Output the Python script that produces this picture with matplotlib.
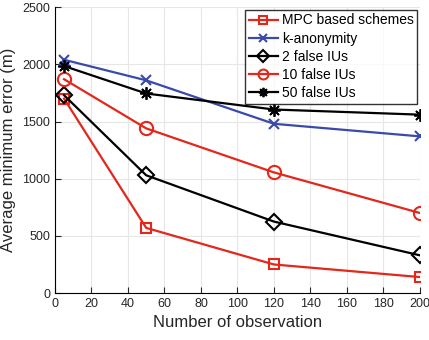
import matplotlib
matplotlib.use("Agg")
import matplotlib.pyplot as plt

obs = [5, 50, 120, 200]
mpc = [1700, 570, 250, 140]
kanon = [2040, 1860, 1480, 1370]
false2 = [1730, 1030, 625, 330]
false10 = [1870, 1440, 1055, 700]
false50 = [1985, 1745, 1605, 1560]

plt.rcParams["font.family"] = ["Liberation Sans", "DejaVu Sans"]

red = "#e3271b"
blue = "#3a4aa8"

fig = plt.figure(figsize=(4.29, 3.40), dpi=100)
ax = fig.add_axes([0.128, 0.138, 0.851, 0.841])

ax.plot(obs, mpc, color=red, lw=1.6, marker="s", ms=7.5, mfc="none", mew=1.5, label="MPC based schemes")
ax.plot(obs, kanon, color=blue, lw=1.6, marker="x", ms=7.5, mew=1.5, label="k-anonymity")
ax.plot(obs, false2, color="black", lw=1.6, marker="D", ms=8.5, mfc="none", mew=1.5, label="2 false IUs")
ax.plot(obs, false10, color=red, lw=1.6, marker="o", ms=9.5, mfc="none", mew=1.5, label="10 false IUs")
ax.plot(obs, false50, color="black", lw=1.6, marker=(8, 2, 0), ms=9, mew=1.3, label="50 false IUs")

ax.set_xlim(0, 200)
ax.set_ylim(0, 2500)
ax.set_xticks(range(0, 201, 20))
ax.set_yticks(range(0, 2501, 500))
ax.grid(True, color="#e6e6e6", lw=0.8)
ax.set_axisbelow(True)
ax.spines["top"].set_visible(False)
ax.spines["right"].set_visible(False)
ax.tick_params(labelsize=9, direction="in", length=4, colors="#262626")

ax.set_xlabel("Number of observation", fontsize=12, color="#262626")
ax.set_ylabel("Average minimum error (m)", fontsize=12, color="#262626")

leg = ax.legend(loc="upper right", fontsize=10, frameon=True, fancybox=False,
                edgecolor="black", handlelength=2.1, borderpad=0.25, markerscale=0.75,
                labelspacing=0.3, handletextpad=0.3, borderaxespad=0.2)
leg.get_frame().set_linewidth(1.0)

fig.savefig("out.png", dpi=100)
